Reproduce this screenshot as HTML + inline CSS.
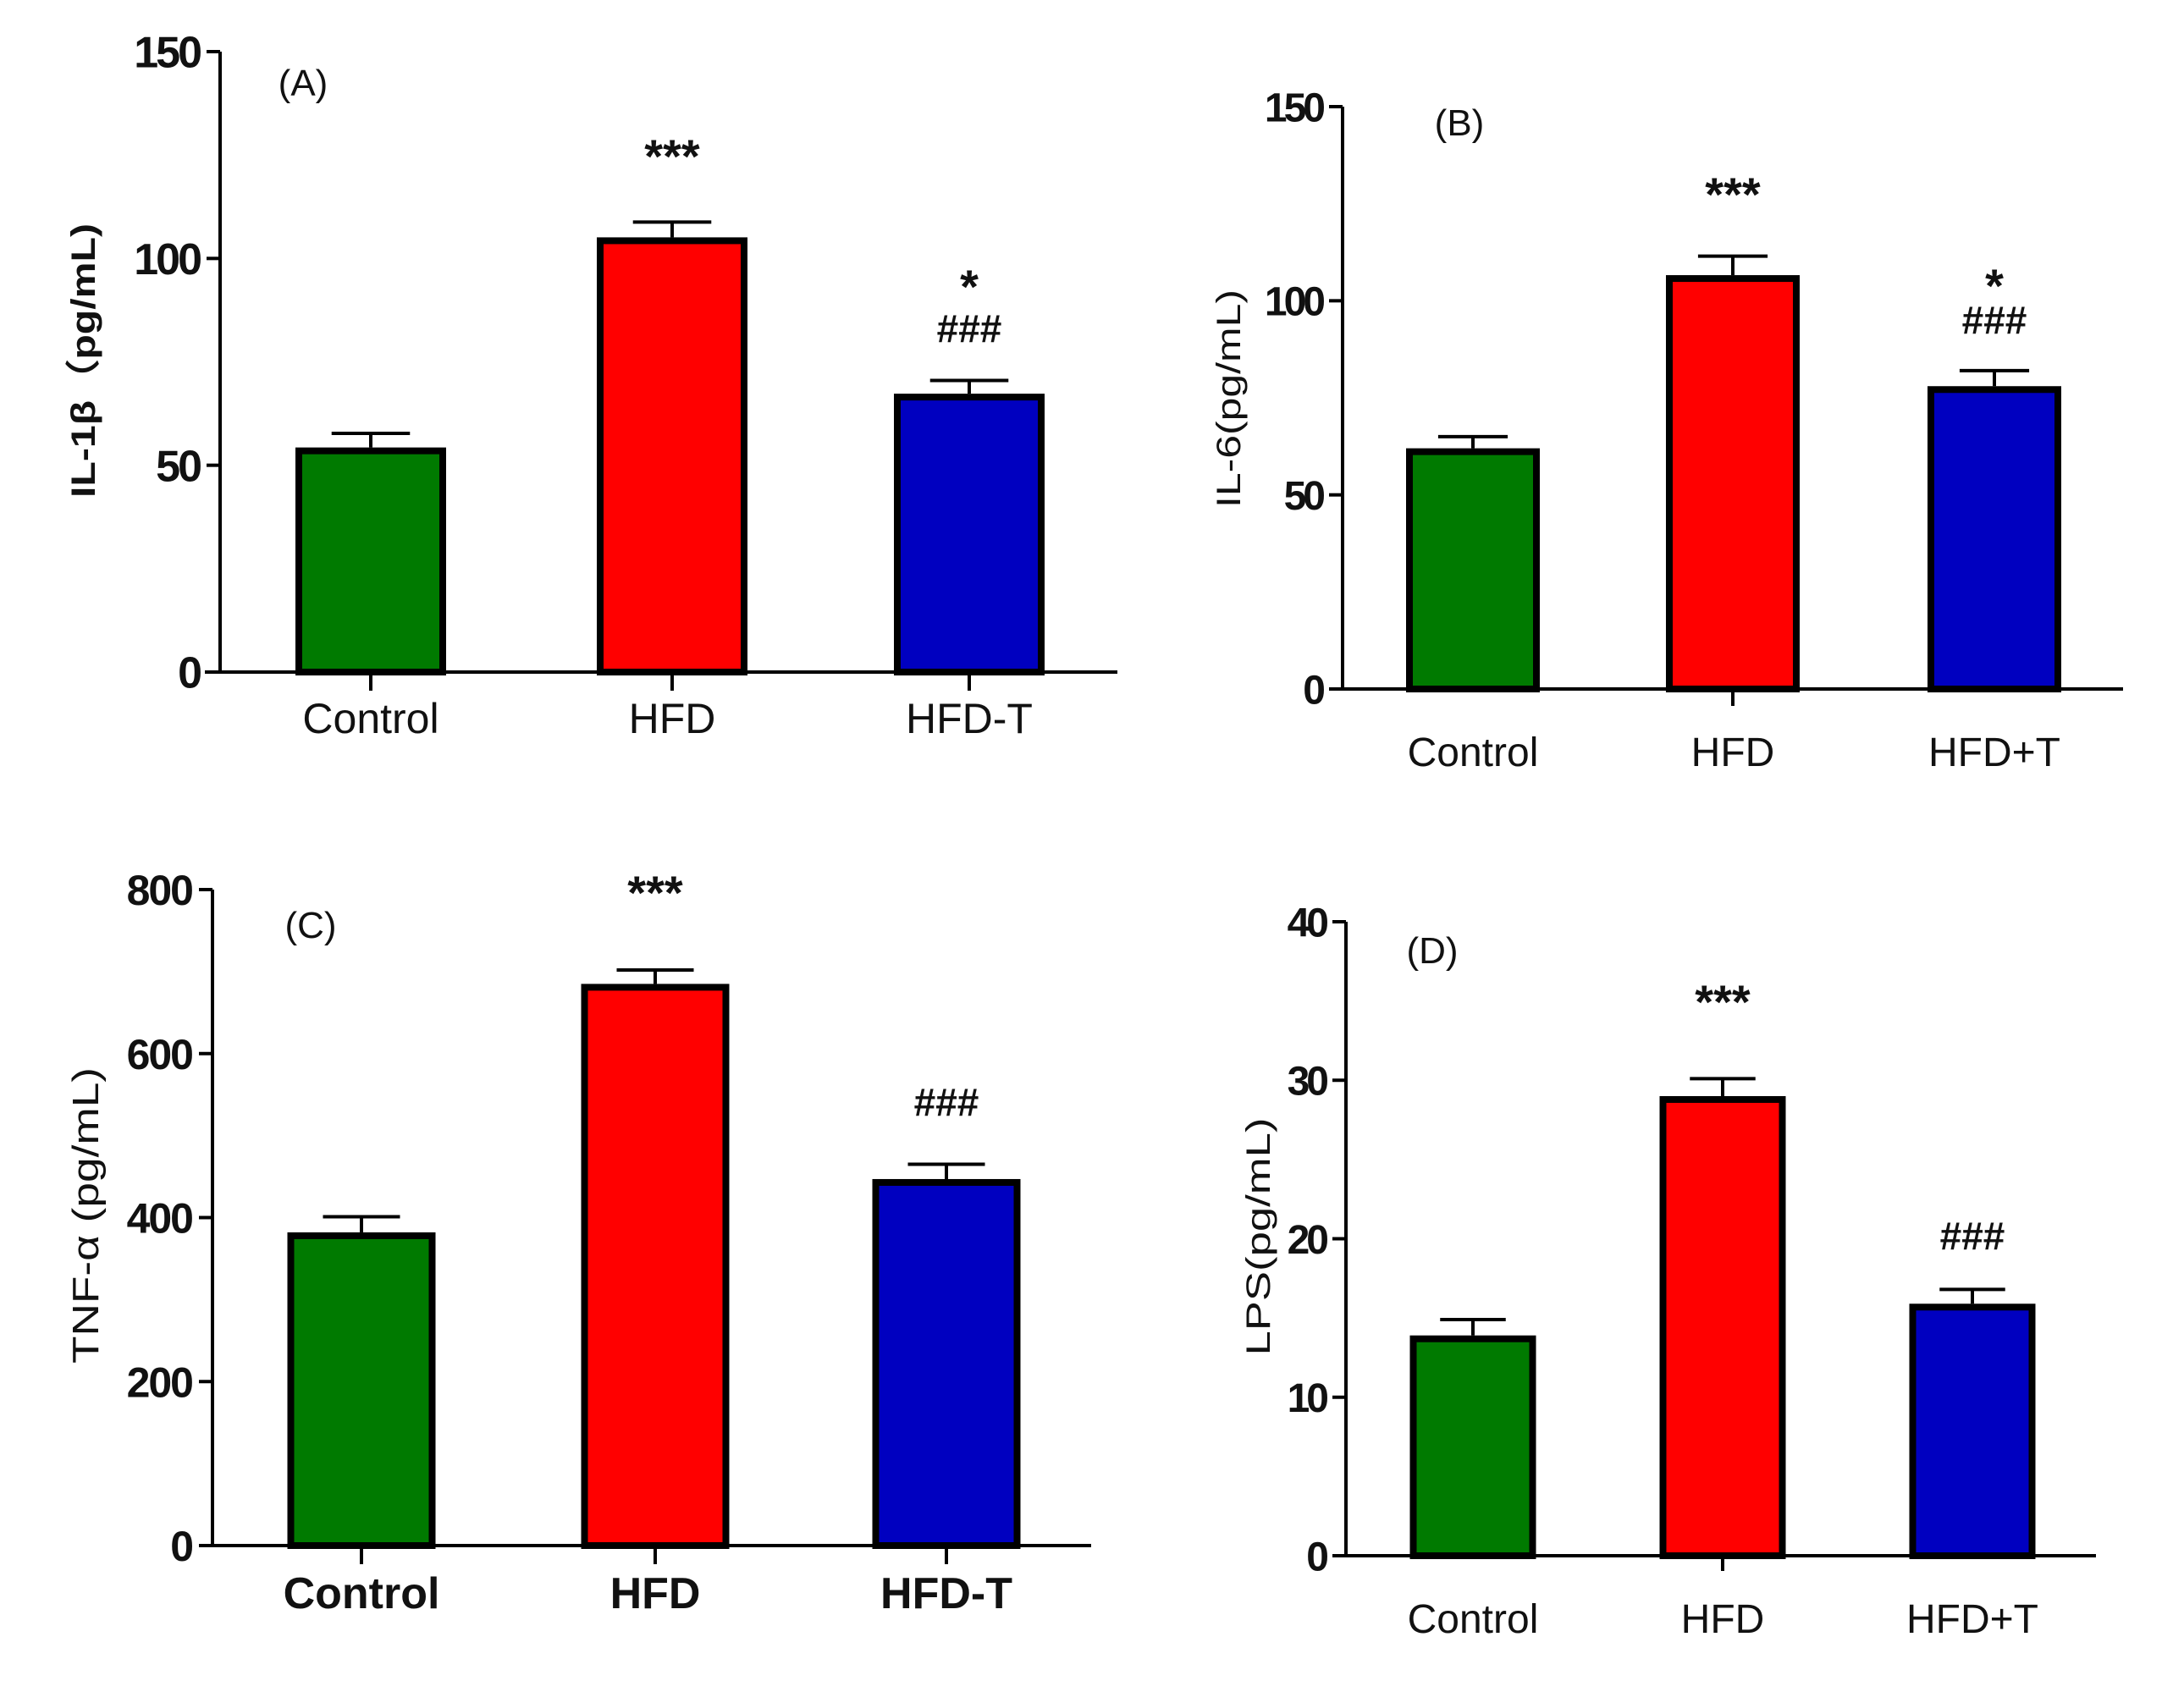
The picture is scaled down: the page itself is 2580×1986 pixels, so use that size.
<!DOCTYPE html>
<html><head><meta charset="utf-8"><style>
html,body{margin:0;padding:0;background:#fff;}
svg{display:block;}
text{font-family:"Liberation Sans","DejaVu Sans",sans-serif;fill:#111;}
</style></head><body>
<svg id="fig" width="2580" height="1986" viewBox="0 0 2580 1986" xmlns="http://www.w3.org/2000/svg">
<rect width="2580" height="1986" fill="#fff"/>
</svg>
<script>
const categoriesA = ["Control","HFD","HFD-T"];
const valuesA = [54.3, 105.1, 67.3];
const errorsA = [3.4, 3.7, 3.2];
const ticksA = [0, 50, 100, 150];
const annotA = [[], ["***"], ["*","###"]];

const categoriesB = ["Control","HFD","HFD+T"];
const valuesB = [62.0, 106.6, 78.0];
const errorsB = [3.0, 4.9, 4.0];
const ticksB = [0, 50, 100, 150];
const annotB = [[], ["***"], ["*","###"]];

const categoriesC = ["Control","HFD","HFD-T"];
const valuesC = [382, 685, 447];
const errorsC = [19, 17, 18];
const ticksC = [0, 200, 400, 600, 800];
const annotC = [[], ["***"], ["###"]];

const categoriesD = ["Control","HFD","HFD+T"];
const valuesD = [13.9, 29.0, 15.9];
const errorsD = [1.0, 1.1, 0.9];
const ticksD = [0, 10, 20, 30, 40];
const annotD = [[], ["***"], ["###"]];

const colors = ["#007a00", "#ff0000", "#0000c0"];
const NS = "http://www.w3.org/2000/svg";
const svg = document.getElementById("fig");

function mk(tag, attrs, parent){
  const e = document.createElementNS(NS, tag);
  for (const k in attrs) e.setAttribute(k, attrs[k]);
  parent.appendChild(e);
  return e;
}

function panel(cfg, cats, vals, errs, ticks, annots){
  const g = mk("g", {}, svg);
  
  
  const yMax = ticks[ticks.length-1];
  const y = v => cfg.y0 - (v / yMax) * (cfg.y0 - cfg.yTop);
  const ya = mk("line", {x1:cfg.ax, y1:cfg.yTop, x2:cfg.ax, y2:cfg.y0, stroke:"#000", "stroke-width":4}, g);
  
  
  const xa = mk("line", {x1:cfg.xl, y1:cfg.y0, x2:cfg.xr, y2:cfg.y0, stroke:"#000", "stroke-width":4}, g);
  
  
  ticks.forEach(t => {
    const ty = y(t);
    const tl = mk("line", {x1:cfg.ax-16, y1:ty, x2:cfg.ax, y2:ty, stroke:"#000", "stroke-width":4}, g);
    
    
    const tx = mk("text", {x:cfg.ax-24, y:ty+cfg.tfs*0.36, "text-anchor":"end", "font-size":cfg.tfs, "font-weight":cfg.tbold?"bold":"normal", "letter-spacing":cfg.tls}, g);
    tx.textContent = String(t);
    
    
  });
  cats.forEach((c, i) => {
    const cx = cfg.cx[i];
    const left = cx - cfg.bw/2;
    const top = y(vals[i]);
    const cap = y(vals[i] + errs[i]);
    const el = mk("line", {x1:cx, y1:cap, x2:cx, y2:top, stroke:"#000", "stroke-width":4}, g);
    
    
    const ec = mk("line", {x1:cx-cfg.bw*0.26, y1:cap, x2:cx+cfg.bw*0.26, y2:cap, stroke:"#000", "stroke-width":4}, g);
    
    
    const r = mk("rect", {x:left+4, y:top+4, width:cfg.bw-8, height:cfg.y0-top-4, fill:colors[i], stroke:"#000", "stroke-width":8}, g);
    
    
    if (cfg.allTicks || i === 1){
      const xt = mk("line", {x1:cx, y1:cfg.y0, x2:cx, y2:cfg.y0+cfg.tickLen, stroke:"#000", "stroke-width":4}, g);
      
      
    }
    const lab = mk("text", {x:cx, y:cfg.labY, "text-anchor":"middle", "font-size":cfg.lfs, "font-weight":cfg.lbold?"bold":"normal"}, g);
    lab.textContent = c;
    
    
    annots[i].forEach((a, k) => {
      const ay = cfg.annY[i][k];
      const at = mk("text", {x:cx, y:ay, "text-anchor":"middle", "font-size":a==="###"?46:56, "font-weight":"bold", fill:"#222"}, g);
      at.textContent = a;
      
      
    });
  });
  const pl = mk("text", {x:cfg.plx, y:cfg.ply, "text-anchor":"middle", "font-size":44}, g);
  pl.textContent = "(" + cfg.id + ")";
  
  
  const yt = mk("text", {x:0, y:0, "text-anchor":"middle", "font-size":cfg.yfs, "font-weight":cfg.ybold?"bold":"normal", textLength:cfg.ylen, lengthAdjust:"spacingAndGlyphs", transform:`translate(${cfg.ytx},${cfg.yty}) rotate(-90)`}, g);
  yt.textContent = cfg.ytitle;
  
  
}

panel({id:"A", ax:260, yTop:61, y0:794, xl:242, xr:1320, cx:[438,794,1145], bw:178, allTicks:true, tickLen:22,
  tfs:52, tbold:true, tls:-3, lfs:50, lbold:false, labY:866, annY:[[],[204],[358,404]], plx:358, ply:113,
  ytitle:"IL-1β（pg/mL)", yfs:40, ybold:true, ylen:324, ytx:112, yty:426}, categoriesA, valuesA, errorsA, ticksA, annotA);

panel({id:"B", ax:1586, yTop:126, y0:814, xl:1573, xr:2508, cx:[1740,2047,2356], bw:158, allTicks:false, tickLen:20,
  tfs:48, tbold:true, tls:-4, lfs:48, lbold:false, labY:905, annY:[[],[249],[357,394]], plx:1724, ply:160,
  ytitle:"IL-6(pg/mL)", yfs:40, ybold:false, ylen:258, ytx:1465, yty:471}, categoriesB, valuesB, errorsB, ticksB, annotB);

panel({id:"C", ax:251, yTop:1051, y0:1826, xl:242, xr:1289, cx:[427,774,1118], bw:175, allTicks:true, tickLen:22,
  tfs:50, tbold:true, tls:-2, lfs:52, lbold:true, labY:1900, annY:[[],[1074],[1318]], plx:367, ply:1108,
  ytitle:"TNF-α (pg/mL)", yfs:44, ybold:false, ylen:350, ytx:116, yty:1436}, categoriesC, valuesC, errorsC, ticksC, annotC);

panel({id:"D", ax:1590, yTop:1089, y0:1838, xl:1578, xr:2476, cx:[1740,2035,2330], bw:149, allTicks:false, tickLen:18,
  tfs:48, tbold:true, tls:-4, lfs:48, lbold:false, labY:1929, annY:[[],[1203],[1476]], plx:1692, ply:1138,
  ytitle:"LPS(pg/mL)", yfs:40, ybold:false, ylen:281, ytx:1500, yty:1461}, categoriesD, valuesD, errorsD, ticksD, annotD);
</script>
</body></html>
